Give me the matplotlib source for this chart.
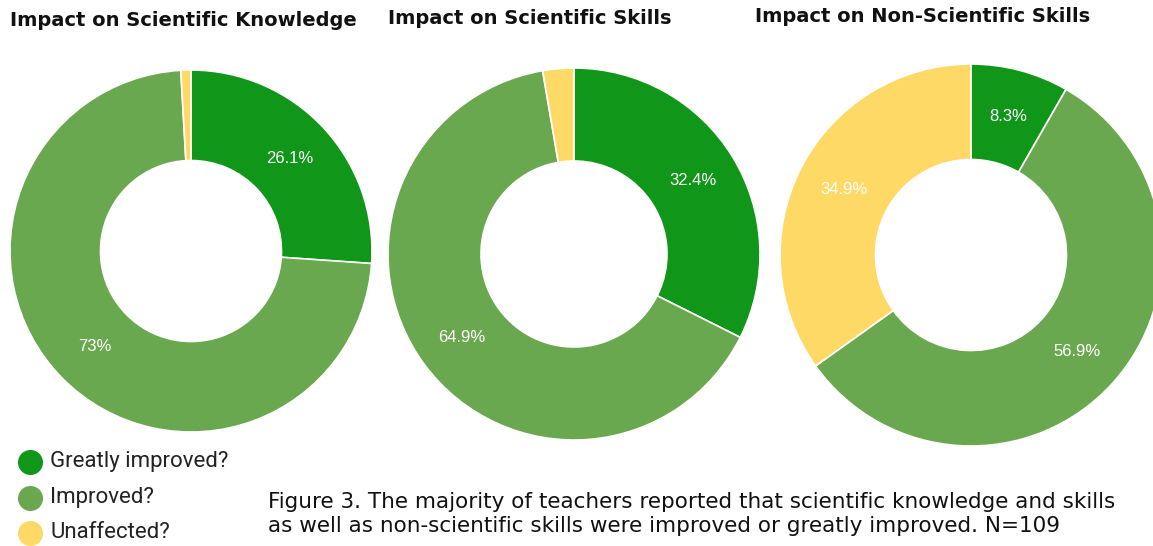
import matplotlib.pyplot as plt

# data
categories = ['Greatly improved?', 'Improved?', 'Unaffected?']
titles = ['Impact on Scientific Knowledge', 'Impact on Scientific Skills',
          'Impact on Non-Scientific Skills']
knowledge = [26.1, 73, 0.9]
sci_skills = [32.4, 64.9, 2.7]
non_sci_skills = [8.3, 56.9, 34.9]
series = [knowledge, sci_skills, non_sci_skills]

colors = ['#109618', '#6aa84f', '#ffd966']
caption = ('Figure 3. The majority of teachers reported that scientific knowledge and skills\n'
           'as well as non-scientific skills were improved or greatly improved. N=109')

W, H = 1153, 546
fig = plt.figure(figsize=(W / 100, H / 100), dpi=100)

# overlay axes in pixel coordinates for titles, legend and caption
over = fig.add_axes([0, 0, 1, 1])
over.set_xlim(0, W)
over.set_ylim(H, 0)
over.axis('off')

# pie centres / radii / title anchors in pixels
centres = [(191, 251, 181), (574, 254, 186), (971, 255, 191)]
title_pos = [(10, 21), (388, 19), (755, 17)]

for vals, (cx, cy, r), title, (tx, ty) in zip(series, centres, titles, title_pos):
    ax = fig.add_axes([(cx - r) / W, 1 - (cy + r) / H, 2 * r / W, 2 * r / H])
    labels = [f'{v:g}%' if v > 5 else '' for v in vals]
    ax.pie(vals, colors=colors, startangle=90, counterclock=False,
           labels=labels, labeldistance=0.75,
           wedgeprops=dict(width=0.5, edgecolor='white', linewidth=1.2),
           textprops=dict(color='white', fontsize=12, family='Liberation Sans'))
    for t in ax.texts:
        t.set_horizontalalignment('center')
        t.set_verticalalignment('center')
    ax.set_xlim(-1, 1)
    ax.set_ylim(-1, 1)
    ax.set_aspect('equal')
    ax.axis('off')
    over.text(tx, ty, title, fontsize=14, fontweight='bold', family='DejaVu Sans',
              color='#111111', va='center', ha='left')

# legend drawn by hand
for i, (lab, c) in enumerate(zip(categories, colors)):
    y = 462 + i * 35.5
    over.plot(30, y, marker='o', markersize=17, color=c, linestyle='none')
    over.text(50, y, lab, fontsize=16, family='Roboto', color='#222222',
              va='center', ha='left')

over.text(268, 514, caption, fontsize=15.5, family='DejaVu Sans',
          color='#111111', va='center', ha='left', linespacing=1.3)

fig.savefig('out.png', dpi=100, facecolor='white')
